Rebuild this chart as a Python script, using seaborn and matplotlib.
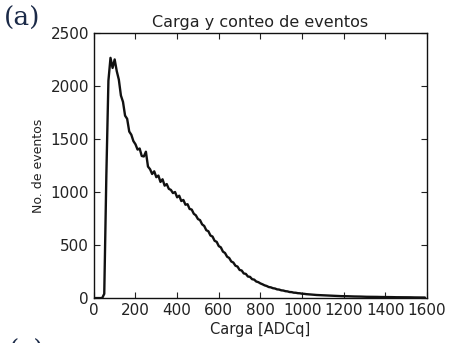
import numpy as np
import pandas as pd
import matplotlib
matplotlib.use("Agg")
import matplotlib.pyplot as plt
import seaborn as sns

# Carga (ADCq) y conteo de eventos
carga = list(range(0, 1600, 10))
conteo = [
    0, 0, 0, 0, 0, 40, 1150, 2050, 2265, 2170,
    2250, 2140, 2060, 1910, 1850, 1720, 1690, 1570, 1540, 1480,
    1450, 1400, 1410, 1340, 1335, 1380, 1240, 1215, 1170, 1195,
    1140, 1155, 1095, 1120, 1060, 1075, 1030, 1020, 990, 1000,
    950, 965, 915, 925, 880, 885, 840, 835, 795, 780,
    745, 735, 695, 680, 640, 630, 590, 580, 540, 530,
    490, 478, 438, 425, 390, 378, 345, 335, 305, 297,
    265, 260, 232, 228, 203, 200, 178, 174, 156, 150,
    138, 130, 120, 114, 104, 101, 93, 90, 82, 80,
    73, 71, 65, 63, 57, 56, 51, 50, 46, 45,
    41, 40, 37, 36, 34, 32, 31, 29, 28, 27,
    26, 25, 24, 23, 22, 21, 21, 20, 19, 18,
    18, 17, 17, 16, 16, 15, 15, 14, 14, 13,
    13, 12, 12, 12, 11, 11, 11, 10, 10, 10,
    9, 9, 9, 9, 8, 8, 8, 8, 7, 7,
    7, 7, 7, 6, 6, 6, 6, 6, 5, 5,
]
xticks = [0, 200, 400, 600, 800, 1000, 1200, 1400, 1600]
yticks = [0, 500, 1000, 1500, 2000, 2500]

df = pd.DataFrame({"carga": carga, "conteo": conteo})

sns.set_style("ticks")
plt.rcParams["font.family"] = ["DejaVu Sans"]

fig = plt.figure(figsize=(4.49, 3.43), dpi=100)
ax = fig.add_axes([0.209, 0.131, 0.742, 0.773])

sns.lineplot(data=df, x="carga", y="conteo", ax=ax, color="#111111",
             linewidth=1.7, estimator=None)

ax.set_xlim(0, 1600)
ax.set_ylim(0, 2500)
ax.set_xticks(xticks)
ax.set_yticks(yticks)
ax.tick_params(direction="in", top=True, right=True, length=4,
               labelsize=11, colors="#222222")
for s in ax.spines.values():
    s.set_visible(True)
    s.set_color("#111111")
    s.set_linewidth(1.0)

ax.set_title("Carga y conteo de eventos", fontsize=11.5, color="#222222", pad=4)
ax.set_xlabel("Carga [ADCq]", fontsize=10.5, color="#222222", labelpad=3)
ax.set_ylabel("No. de eventos", fontsize=9, color="#222222", labelpad=4)

# etiquetas de panel
fig.text(0.008, 0.982, "(a)", family="DejaVu Serif", fontsize=19,
         color="#1b2a48", va="top", ha="left")
fig.text(0.02, -0.06, "(c)", family="DejaVu Serif", fontsize=19,
         color="#1b2a48", va="bottom", ha="left")

fig.savefig("out.png", dpi=100)
